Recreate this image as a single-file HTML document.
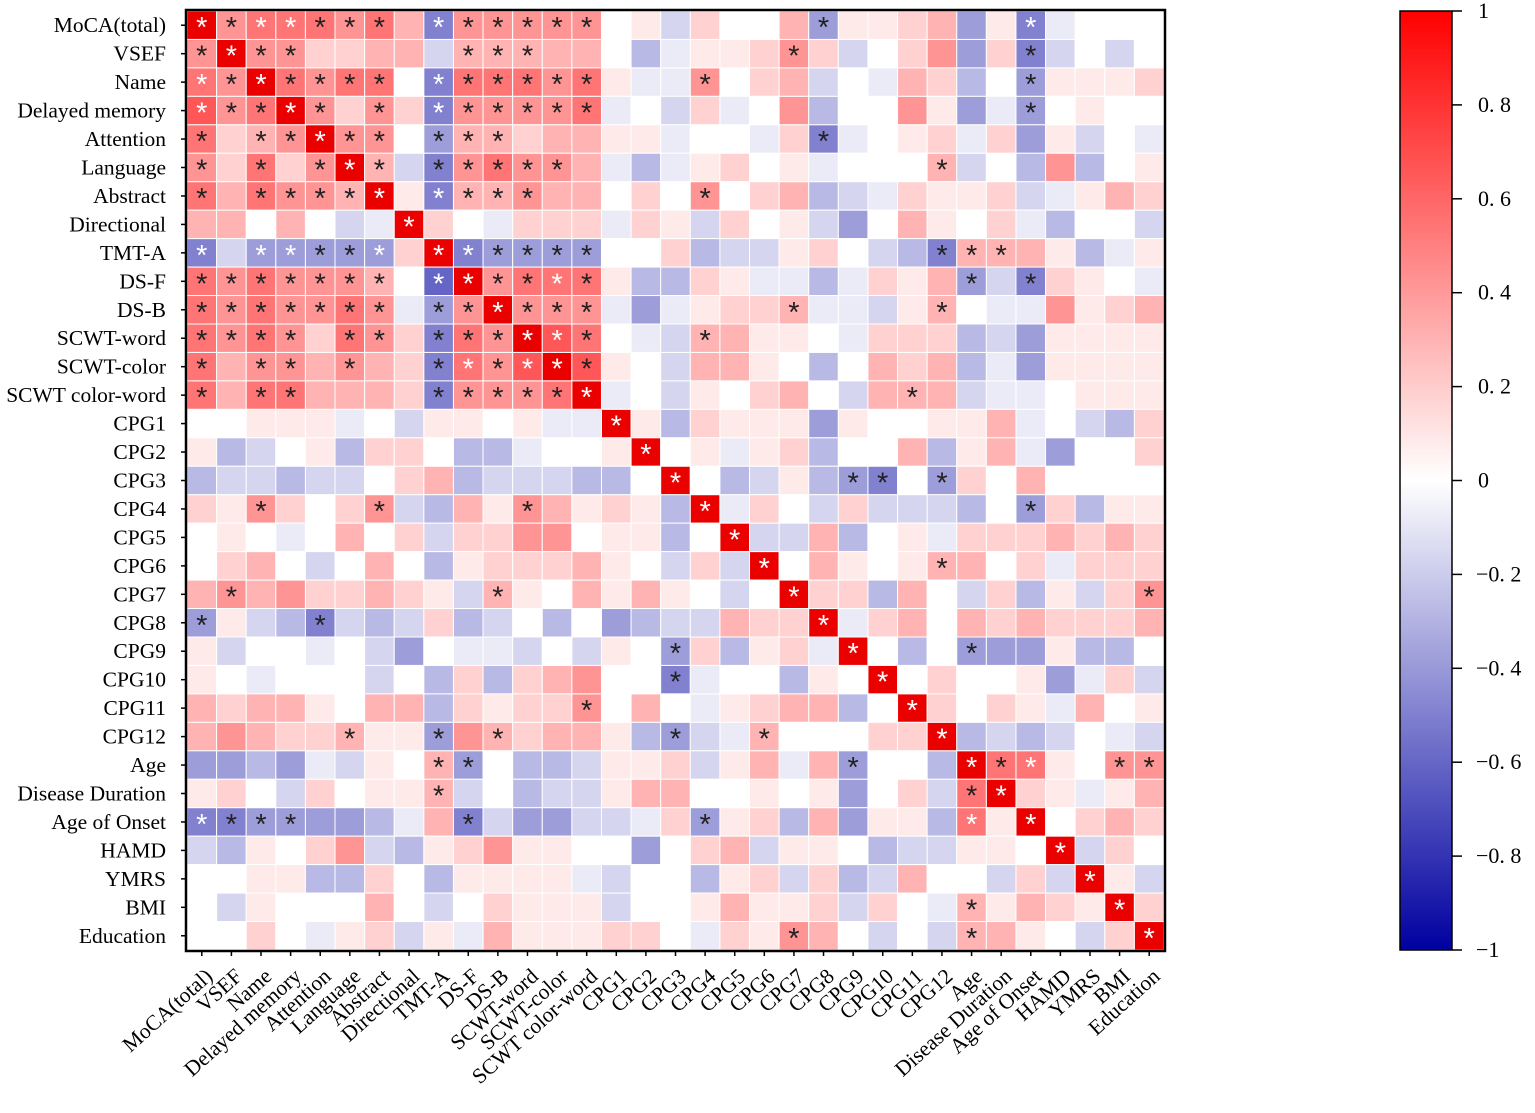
<!DOCTYPE html>
<html><head><meta charset="utf-8">
<style>
html,body{margin:0;padding:0;background:#fff;}
svg text{font-family:"Liberation Serif",serif;}
</style></head>
<body>
<svg id="s" width="1535" height="1108" xmlns="http://www.w3.org/2000/svg"></svg>
<script>
const labels=["MoCA(total)","VSEF","Name","Delayed memory","Attention","Language","Abstract","Directional","TMT-A","DS-F","DS-B","SCWT-word","SCWT-color","SCWT color-word","CPG1","CPG2","CPG3","CPG4","CPG5","CPG6","CPG7","CPG8","CPG9","CPG10","CPG11","CPG12","Age","Disease Duration","Age of Onset","HAMD","YMRS","BMI","Education"];
const codes={"0":0,"1":0.07,"2":0.15,"3":0.25,"4":0.35,"5":0.45,"6":0.55,"X":1,"a":-0.07,"b":-0.15,"c":-0.25,"d":-0.35,"e":-0.45,"f":-0.55};
const T=[
"Xw 4k 5w 5w 5k 4k 5k 3. ew 4k 4k 4k 4k 4k 0. 1. b. 2. 0. 0. 3. dk 1. 1. 2. 3. d. 1. ew a. 0. 0. 0.",
"4k Xw 4k 4k 2. 2. 3. 3. b. 3k 3k 3k 3. 3. 0. c. a. 1. 1. 2. 4k 2. b. 0. 2. 4. d. 2. ek b. 0. b. 0.",
"5w 4k Xw 5k 4k 5k 5k 0. ew 5k 5k 5k 4k 5k 1. a. a. 4k 0. 2. 3. b. 0. a. 3. 2. c. 0. dk 1. 1. 1. 2.",
"6w 4k 5k Xw 4k 2. 4k 2. ew 4k 4k 4k 4k 5k a. 0. b. 2. a. 0. 4. c. 0. 0. 4. 1. d. a. dk 0. 1. 0. 0.",
"5k 2. 3k 4k Xw 4k 4k 0. dk 3k 3k 2. 3. 3. 1. 1. a. 0. 0. a. 2. ek a. 0. 1. 2. a. 2. d. 1. b. 0. a.",
"4k 2. 5k 2. 4k Xw 3k b. ek 4k 5k 4k 4k 3. a. c. a. 1. 2. 0. 1. a. 0. 0. 0. 3k b. 0. c. 4. c. 0. 1.",
"5k 3. 5k 4k 4k 3k Xw 1. ew 3k 3k 4k 3. 3. 0. 2. 0. 4k 0. 2. 3. c. b. a. 2. 1. 1. 2. b. a. 1. 3. 2.",
"3. 3. 0. 3. 0. b. a. Xw 2. 0. a. 2. 2. 2. a. 2. 1. b. 2. 0. 1. b. d. 0. 3. 1. 0. 2. a. c. 0. 0. b.",
"ew b. dw dw dk dk dw 2. Xw ew dk dk dk dk 0. 0. 2. c. b. b. 1. 2. 0. b. c. ek 3k 3k 3. 1. c. a. 1.",
"5k 4k 5k 4k 4k 4k 3k 0. fw Xw 4k 5k 5w 5k 1. c. c. 2. 1. a. a. c. a. 2. 1. 3. dk b. ek 2. 1. 0. a.",
"5k 4k 5k 4k 4k 5k 4k a. dk 4k Xw 4k 4k 4k a. d. a. 1. 2. 2. 3k a. a. b. 1. 3k 0. a. a. 4. 1. 2. 3.",
"5k 4k 5k 4k 2. 5k 4k 2. ek 5k 4k Xw 6w 5k 0. a. b. 3k 3. 1. 1. 0. a. 2. 2. 2. c. b. d. 1. 1. 1. 1.",
"5k 3. 4k 4k 3. 4k 3. 2. ek 5w 4k 6w Xw 6k 1. 0. b. 3. 3. 1. 0. c. 0. 3. 2. 3. c. a. d. 1. 1. 1. 1.",
"5k 3. 5k 5k 3. 3. 3. 2. ek 4k 4k 4k 5k Xw a. 0. b. 1. 0. 2. 3. 0. b. 3. 3k 3. b. a. a. 0. 1. 1. 1.",
"0. 0. 1. 1. 1. a. 0. b. 1. 1. 0. 1. a. a. Xw 1. c. 2. 1. 1. 1. d. 1. 0. 0. 1. 1. 3. a. 0. b. c. 2.",
"1. c. b. 0. 1. c. 2. 2. 0. c. c. a. 0. 0. 1. Xw 0. 1. a. 1. 2. c. 0. 0. 3. c. 1. 3. a. d. 0. 0. 2.",
"c. b. b. c. b. b. 0. 2. 3. c. b. b. b. c. c. 0. Xw 0. c. b. 1. c. dk ek 0. dk 2. 0. 3. 0. 0. 0. 0.",
"2. 1. 4k 2. 0. 2. 4k b. c. 3. 1. 4k 3. 1. 2. 1. c. Xw a. 2. 0. b. 2. b. b. b. c. 0. dk 2. c. 1. 1.",
"0. 1. 0. a. 0. 3. 0. 2. b. 2. 2. 4. 4. 0. 1. 1. c. 0. Xw b. b. 3. c. 0. 1. a. 2. 2. 2. 3. 2. 3. 2.",
"0. 2. 3. 0. b. 0. 3. 0. c. 1. 2. 2. 2. 3. 1. 0. b. 2. b. Xw 0. 3. 1. 0. 1. 3k 3. 0. 2. a. 2. 2. 2.",
"3. 4k 3. 4. 2. 2. 3. 2. 1. b. 3k 1. 0. 3. 1. 3. 1. 0. b. 0. Xw 2. 2. c. 3. 0. b. 2. c. 1. b. 2. 4k",
"dk 1. b. c. ek b. c. b. 2. c. b. 0. c. 0. d. c. b. b. 3. 2. 2. Xw a. 2. 3. 0. 3. 2. 3. 2. 2. 2. 3.",
"1. b. 0. 0. a. 0. b. d. 0. a. a. b. 0. b. 1. 0. dk 2. c. 1. 2. a. Xw 0. c. 0. dk d. d. 1. c. c. 0.",
"1. 0. a. 0. 0. 0. b. 0. c. 2. c. 2. 3. 4. 0. 0. ek a. 0. 0. c. 1. 0. Xw 0. 2. 0. 0. 1. d. a. 2. b.",
"3. 2. 3. 3. 1. 0. 3. 3. c. 2. 1. 2. 2. 4k 0. 3. 0. a. 1. 2. 3. 3. c. 0. Xw 2. 0. 2. 1. a. 3. 0. 1.",
"3. 4. 3. 2. 2. 3k 1. 1. dk 4. 3k 2. 3. 3. 1. c. dk b. a. 3k 0. 0. 0. 2. 2. Xw c. b. c. b. 0. a. b.",
"d. d. c. d. a. b. 1. 0. 3k dk 0. c. c. b. 1. 1. 2. b. 1. 3. a. 3. dk 0. 0. c. Xw 5k 5w 1. 0. 4k 4k",
"1. 2. 0. b. 2. 0. 1. 1. 3k b. 0. c. b. b. 1. 3. 3. 0. 0. 1. 0. 1. d. 0. 2. b. 5k Xw 2. 1. a. 1. 3.",
"ew ek dk dk d. d. c. a. 3. ek b. d. d. b. b. a. 2. dk 1. 2. c. 3. d. 1. 1. c. 5w 1. Xw 0. 2. 3. 2.",
"b. c. 1. 0. 2. 4. b. c. 1. 2. 4. 1. 1. 0. 0. d. 0. 2. 3. b. 1. 1. 0. c. b. b. 1. 1. 0. Xw b. 2. 0.",
"0. 0. 1. 1. c. c. 2. 0. c. 1. 1. 1. 1. a. b. 0. 0. c. 1. 2. b. 2. c. b. 3. 0. 0. b. 2. b. Xw 1. b.",
"0. b. 1. 0. 0. 0. 3. 0. b. 0. 2. 1. 1. 1. b. 0. 0. 1. 3. 1. 1. 2. b. 2. 0. a. 3k 1. 3. 2. 1. Xw 2.",
"0. 0. 2. 0. a. 1. 2. b. 1. a. 3. 1. 1. 1. 2. 2. 0. a. 2. 1. 4k 3. 0. b. 0. b. 3k 3. 1. 0. b. 2. Xw"
];
const L=187,Tp=11,W=977,H=939,N=33,cw=W/N,ch=H/N;
function col(v){
  if(v>=0){const t=Math.min(1,v*1.2);const g=Math.round(255*(1-t));return `rgb(${v>=1?235:255},${g},${g})`;}
  const t=Math.min(1,-v*1.1);return `rgb(${Math.round(255*(1-t))},${Math.round(255*(1-t))},${Math.round(255-95*t)})`;
}
let s='';
T.forEach((row,i)=>{
  row.trim().split(/\s+/).forEach((tok,j)=>{
    const v=codes[tok[0]]??0, st=tok[1];
    const x=L+j*cw,y=Tp+i*ch;
    s+=`<rect x="${x.toFixed(2)}" y="${y.toFixed(2)}" width="${cw.toFixed(2)}" height="${ch.toFixed(2)}" fill="${col(v)}" stroke="#fff" stroke-width="1"/>`;
    if(st==='k'||st==='w') s+=`<text x="${(x+cw/2).toFixed(1)}" y="${(y+ch/2+12).toFixed(1)}" font-size="29" text-anchor="middle" style="font-family:'Liberation Sans',sans-serif" fill="${st==='w'?'#fff':'#222'}">*</text>`;
  });
});
s+=`<rect x="${L-1}" y="${Tp-1}" width="${W+2}" height="${H+2}" fill="none" stroke="#000" stroke-width="2.5"/>`;
labels.forEach((t,i)=>{
  const y=Tp+(i+0.5)*ch;
  s+=`<line x1="${L-6}" y1="${y}" x2="${L-1}" y2="${y}" stroke="#000" stroke-width="1.5"/>`;
  s+=`<text x="166" y="${(y+7).toFixed(1)}" font-size="21.5" text-anchor="end">${t}</text>`;
  const x=L+(i+0.5)*cw;
  s+=`<line x1="${x}" y1="${Tp+H+1}" x2="${x}" y2="${Tp+H+6}" stroke="#000" stroke-width="1.5"/>`;
  s+=`<text transform="translate(${(x+12).toFixed(1)},${Tp+H+28}) rotate(-42)" font-size="21.5" text-anchor="end">${t}</text>`;
});
s+=`<defs><linearGradient id="g" x1="0" y1="0" x2="0" y2="1"><stop offset="0" stop-color="#ff0000"/><stop offset="0.5" stop-color="#ffffff"/><stop offset="1" stop-color="#0000a0"/></linearGradient></defs>`;
s+=`<rect x="1400" y="11" width="52" height="939" fill="url(#g)" stroke="#000" stroke-width="1.5"/>`;
const tl=["1","0. 8","0. 6","0. 4","0. 2","0","\u22120. 2","\u22120. 4","\u22120. 6","\u22120. 8","\u22121"];
tl.forEach((t,k)=>{const y=11+k*93.9;
  s+=`<line x1="1452" y1="${y}" x2="1462" y2="${y}" stroke="#000" stroke-width="1.5"/>`;
  s+=`<text x="${t.startsWith('\u2212')?1476:1478}" y="${(y+7).toFixed(1)}" font-size="22">${t}</text>`;});
document.getElementById('s').innerHTML=s;
</script>
</body></html>
